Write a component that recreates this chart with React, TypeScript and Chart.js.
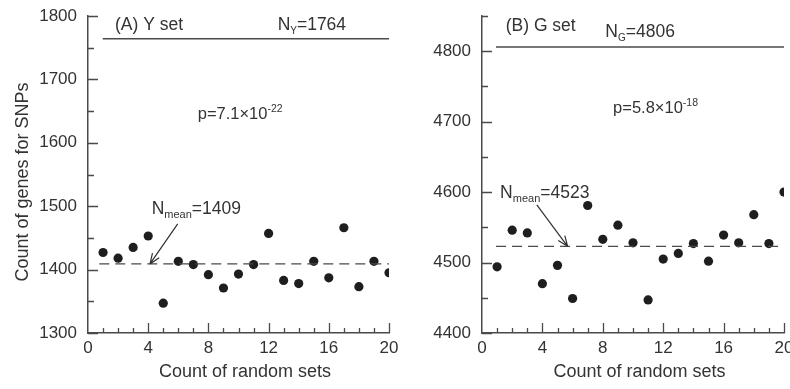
import React, { useEffect, useRef } from "react";
import { Chart, registerables } from "chart.js";
Chart.register(...registerables);

// ---------- data ----------
const setIndex = [1, 2, 3, 4, 5, 6, 7, 8, 9, 10, 11, 12, 13, 14, 15, 16, 17, 18, 19, 20];
const ySetCounts = [1427, 1418, 1435, 1453, 1347, 1413, 1408, 1392, 1371, 1393, 1408, 1457, 1383, 1378, 1413, 1387, 1466, 1373, 1413, 1395];
const gSetCounts = [4494, 4546, 4542, 4470, 4496, 4449, 4581, 4533, 4553, 4528, 4447, 4505, 4513, 4527, 4502, 4539, 4528, 4568, 4527, 4600];
const yObserved = 1764;
const yMean = 1409;
const gObserved = 4806;
const gMean = 4523;
const yTickLabels = [1300, 1400, 1500, 1600, 1700, 1800];
const gTickLabels = [4400, 4500, 4600, 4700, 4800];
const xTickLabels = [0, 4, 8, 12, 16, 20];
const yPValue = { mant: "p=7.1\u00D710", exp: "-22" };
const gPValue = { mant: "p=5.8\u00D710", exp: "-18" };

const FONT = "'Liberation Sans', Arial, sans-serif";
const TEXT = "#333333";
const LINE = "#4a4a4a";

type Part = { t: string; size: number; dy?: number };

function drawRich(ctx: CanvasRenderingContext2D, x: number, y: number, parts: Part[]) {
  let cx = x;
  ctx.textAlign = "left";
  ctx.textBaseline = "alphabetic";
  for (const p of parts) {
    ctx.font = `${p.size}px ${FONT}`;
    ctx.fillText(p.t, cx, y + (p.dy || 0));
    cx += ctx.measureText(p.t).width;
  }
}

type Panel = {
  values: number[];
  observed: number;
  mean: number;
  yMin: number;
  yMax: number;
  yLabels: number[];
  title: string;
  obsSub: string;
  pValue: { mant: string; exp: string };
  obsLineStart: number;
  meanLineStart: number;
  titleAt: [number, number];
  obsAt: [number, number];
  pAt: [number, number];
  meanAt: [number, number];
  arrowFrom: [number, number];
  arrowTo: [number, number];
  axisWidth: number;
  canvasWidth: number;
  plotRight: number;
  showYTitle: boolean;
};

const panels: Panel[] = [
  {
    values: ySetCounts,
    observed: yObserved,
    mean: yMean,
    yMin: 1300,
    yMax: 1800,
    yLabels: yTickLabels,
    title: "(A) Y set",
    obsSub: "Y",
    pValue: yPValue,
    obsLineStart: 0.98,
    meanLineStart: 0.75,
    titleAt: [1.79, 1778],
    obsAt: [12.6, 1778],
    pAt: [7.29, 1637],
    meanAt: [4.23, 1488],
    arrowFrom: [5.96, 1472],
    arrowTo: [4.12, yMean],
    axisWidth: 88,
    canvasWidth: 412,
    plotRight: 389,
    showYTitle: true,
  },
  {
    values: gSetCounts,
    observed: gObserved,
    mean: gMean,
    yMin: 4400,
    yMax: 4850,
    yLabels: gTickLabels,
    title: "(B) G set",
    obsSub: "G",
    pValue: gPValue,
    obsLineStart: 0.93,
    meanLineStart: 0.93,
    titleAt: [1.57, 4828],
    obsAt: [8.17, 4820],
    pAt: [8.68, 4712],
    meanAt: [1.2, 4592],
    arrowFrom: [3.63, 4582],
    arrowTo: [5.67, gMean],
    axisWidth: 87,
    canvasWidth: 395,
    plotRight: 389,
    showYTitle: false,
  },
];

function PanelChart({ panel, left }: { panel: Panel; left: number }) {
  const ref = useRef<HTMLCanvasElement | null>(null);
  useEffect(() => {
    if (!ref.current) return;
    const p = panel;
    const decor = {
      id: "decor",
      afterDraw(chart: any) {
        const ctx = chart.ctx as CanvasRenderingContext2D;
        const xs = chart.scales.x;
        const ys = chart.scales.y;
        const area = chart.chartArea;
        ctx.save();
        // inward ticks
        ctx.strokeStyle = LINE;
        ctx.lineWidth = 1.3;
        ctx.beginPath();
        for (let v = p.yMin; v <= p.yMax + 0.001; v += 50) {
          const py = Math.round(ys.getPixelForValue(v)) + 0.5;
          const len = v % 100 === 0 ? 10 : 6;
          ctx.moveTo(area.left, py);
          ctx.lineTo(area.left + len, py);
        }
        for (let v = 1; v <= 20; v++) {
          const px = Math.round(xs.getPixelForValue(v)) + 0.5;
          const len = v % 4 === 0 ? 10 : 5;
          ctx.moveTo(px, area.bottom);
          ctx.lineTo(px, area.bottom - len);
        }
        ctx.stroke();

        // arrow
        const ax0 = xs.getPixelForValue(p.arrowFrom[0]);
        const ay0 = ys.getPixelForValue(p.arrowFrom[1]);
        const ax1 = xs.getPixelForValue(p.arrowTo[0]);
        const ay1 = ys.getPixelForValue(p.arrowTo[1]);
        ctx.strokeStyle = "#303030";
        ctx.lineWidth = 1.2;
        ctx.beginPath();
        ctx.moveTo(ax0, ay0);
        ctx.lineTo(ax1, ay1);
        const ang = Math.atan2(ay1 - ay0, ax1 - ax0);
        const hl = 11;
        ctx.moveTo(ax1, ay1);
        ctx.lineTo(ax1 - hl * Math.cos(ang - 0.38), ay1 - hl * Math.sin(ang - 0.38));
        ctx.moveTo(ax1, ay1);
        ctx.lineTo(ax1 - hl * Math.cos(ang + 0.38), ay1 - hl * Math.sin(ang + 0.38));
        ctx.stroke();

        // texts
        ctx.fillStyle = TEXT;
        const at = (pt: [number, number]) => [xs.getPixelForValue(pt[0]), ys.getPixelForValue(pt[1])];
        let [tx, ty] = at(p.titleAt);
        drawRich(ctx, tx, ty, [{ t: p.title, size: 17.5 }]);
        [tx, ty] = at(p.obsAt);
        drawRich(ctx, tx, ty, [
          { t: "N", size: 17.5 },
          { t: p.obsSub, size: 10, dy: 4 },
          { t: "=" + p.observed, size: 17.5 },
        ]);
        [tx, ty] = at(p.pAt);
        drawRich(ctx, tx, ty, [
          { t: p.pValue.mant, size: 16.5 },
          { t: p.pValue.exp, size: 10.5, dy: -7 },
        ]);
        [tx, ty] = at(p.meanAt);
        drawRich(ctx, tx, ty, [
          { t: "N", size: 17.5 },
          { t: "mean", size: 11, dy: 4 },
          { t: "=" + p.mean, size: 17.5 },
        ]);

        // axis titles
        ctx.font = `18px ${FONT}`;
        ctx.textAlign = "center";
        ctx.textBaseline = "middle";
        ctx.fillText("Count of random sets", (area.left + area.right) / 2 + 6.5, area.bottom + 39);
        if (p.showYTitle) {
          ctx.save();
          ctx.translate(23, 182);
          ctx.rotate(-Math.PI / 2);
          ctx.fillText("Count of genes for SNPs", 0, 0);
          ctx.restore();
        }
        ctx.restore();
      },
    };

    const fmt = (v: any) => String(v);

    const chart = new Chart(ref.current, {
      type: "scatter",
      data: {
        datasets: [
          {
            type: "line",
            data: [
              { x: p.obsLineStart, y: p.observed },
              { x: 20, y: p.observed },
            ],
            borderColor: LINE,
            borderWidth: 1.6,
            pointRadius: 0,
          } as any,
          {
            type: "line",
            data: [
              { x: p.meanLineStart, y: p.mean },
              { x: 20, y: p.mean },
            ],
            borderColor: LINE,
            borderWidth: 1.4,
            borderDash: [10, 6],
            pointRadius: 0,
          } as any,
          {
            type: "scatter",
            data: setIndex.map((x, i) => ({ x, y: p.values[i] })),
            backgroundColor: "#1e1e1e",
            borderColor: "#1e1e1e",
            pointRadius: 4.6,
            borderWidth: 0,
          },
        ],
      },
      options: {
        animation: false,
        responsive: false,
        devicePixelRatio: 1,
        layout: { padding: { left: 0, right: p.canvasWidth - p.plotRight, top: 16, bottom: 0 } },
        plugins: { legend: { display: false }, tooltip: { enabled: false } },
        scales: {
          x: {
            type: "linear",
            min: 0,
            max: 20,
            afterBuildTicks: (s: any) => {
              s.ticks = xTickLabels.map((v) => ({ value: v }));
            },
            afterFit: (s: any) => {
              s.height = 56;
              s.paddingLeft = 0;
              s.paddingRight = 0;
            },
            ticks: { color: TEXT, font: { family: FONT, size: 17 }, padding: 5, maxRotation: 0, callback: fmt },
            grid: { display: false, drawTicks: false },
            border: { display: true, color: LINE, width: 1.5 },
          },
          y: {
            type: "linear",
            min: p.yMin,
            max: p.yMax,
            afterBuildTicks: (s: any) => {
              s.ticks = p.yLabels.map((v) => ({ value: v }));
            },
            afterFit: (s: any) => {
              s.width = p.axisWidth;
              s.paddingTop = 0;
              s.paddingBottom = 0;
            },
            ticks: { color: TEXT, font: { family: FONT, size: 17 }, padding: 11, callback: fmt },
            grid: { display: false, drawTicks: false },
            border: { display: true, color: LINE, width: 1.5 },
          },
        },
      },
      plugins: [decor],
    });
    return () => chart.destroy();
  }, [panel]);
  return (
    <canvas
      ref={ref}
      width={panel.canvasWidth}
      height={389}
      style={{ position: "absolute", left, top: 0, width: panel.canvasWidth, height: 389 }}
    />
  );
}

export default function App() {
  return (
    <div style={{ position: "fixed", left: 0, top: 0, width: 790, height: 389, background: "#fff", overflow: "hidden" }}>
      <PanelChart panel={panels[0]} left={0} />
      <PanelChart panel={panels[1]} left={395} />
    </div>
  );
}
